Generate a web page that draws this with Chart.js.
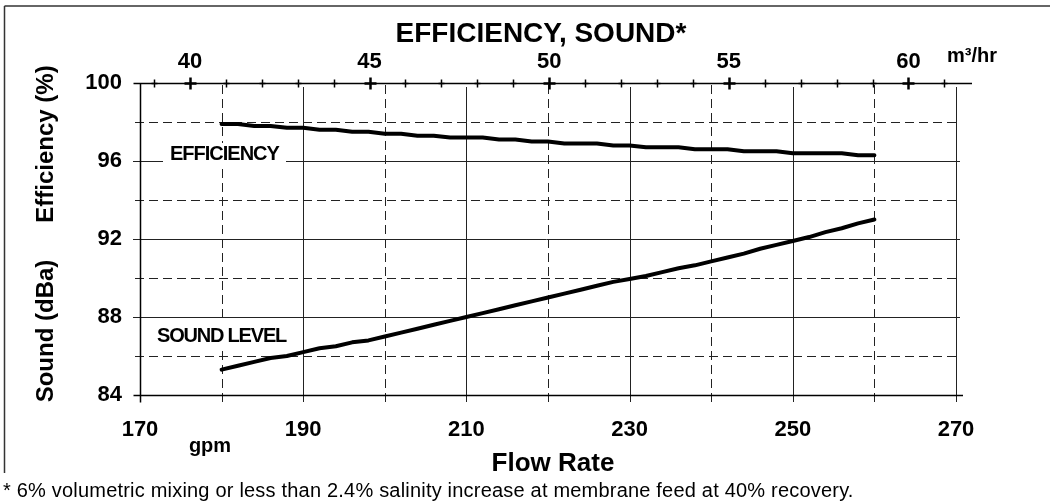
<!DOCTYPE html>
<html>
<head>
<meta charset="utf-8">
<title>Efficiency, Sound</title>
<script src="https://cdn.jsdelivr.net/npm/chart.js@4.4.1/dist/chart.umd.min.js"></script>
<style>
  body { margin: 0; background: #fff; }
  #wrap { width: 1050px; height: 502px; position: relative; }
</style>
</head>
<body>
<div id="wrap"><canvas id="chart"></canvas></div>
<script>
// flow rate (gpm) and the two curves
const flowGpm = [180, 182, 184, 186, 188, 190, 192, 194, 196, 198, 200, 202, 204, 206, 208, 210,
  212, 214, 216, 218, 220, 222, 224, 226, 228, 230, 232, 234, 236, 238, 240, 242, 244, 246, 248,
  250, 252, 254, 256, 258, 260];
const efficiency = [97.9, 97.9, 97.8, 97.8, 97.7, 97.7, 97.6, 97.6, 97.5, 97.5, 97.4, 97.4, 97.3,
  97.3, 97.2, 97.2, 97.2, 97.1, 97.1, 97.0, 97.0, 96.9, 96.9, 96.9, 96.8, 96.8, 96.7, 96.7, 96.7,
  96.6, 96.6, 96.6, 96.5, 96.5, 96.5, 96.4, 96.4, 96.4, 96.4, 96.3, 96.3];
const sound = [85.3, 85.5, 85.7, 85.9, 86.0, 86.2, 86.4, 86.5, 86.7, 86.8, 87.0, 87.2, 87.4, 87.6,
  87.8, 88.0, 88.2, 88.4, 88.6, 88.8, 89.0, 89.2, 89.4, 89.6, 89.8, 89.95, 90.1, 90.3, 90.5, 90.65,
  90.85, 91.05, 91.25, 91.5, 91.7, 91.9, 92.1, 92.35, 92.55, 92.8, 93.0];

// tick labels
const gpmTicks = [170, 190, 210, 230, 250, 270];
const gpmMinor = [180, 200, 220, 240, 260];
const yTicks = [84, 88, 92, 96, 100];
const yMinor = [86, 90, 94, 98];
const m3Ticks = [40, 45, 50, 55, 60];
const m3Minor = [39, 41, 42, 43, 44, 46, 47, 48, 49, 51, 52, 53, 54, 56, 57, 58, 59, 61];

const GPM_TO_M3 = 0.22712;
const FONT = "'Liberation Sans', Arial, sans-serif";

function seg(ctx, x1, y1, x2, y2) {
  ctx.beginPath();
  ctx.moveTo(x1, y1);
  ctx.lineTo(x2, y2);
  ctx.stroke();
}
const px = v => Math.round(v) + 0.5;

// grid, axes and the cross ticks of the m3/hr axis
const gridPlugin = {
  id: 'gridPlugin',
  beforeDatasetsDraw(chart) {
    const { ctx, chartArea: a, scales: { x, y, x2 } } = chart;
    ctx.save();
    ctx.lineWidth = 1;
    ctx.strokeStyle = '#222';

    ctx.setLineDash([9, 5]);
    gpmMinor.forEach(v => {
      const p = px(x.getPixelForValue(v));
      seg(ctx, p, a.top + 2, p, a.bottom + 7);
    });
    yMinor.forEach(v => {
      const p = px(y.getPixelForValue(v));
      seg(ctx, a.left - 5, p, a.right + 4, p);
    });
    ctx.setLineDash([]);

    gpmTicks.slice(1).forEach(v => {
      const p = px(x.getPixelForValue(v));
      seg(ctx, p, a.top + 4, p, a.bottom + 7);
    });
    yTicks.slice(1, -1).forEach(v => {
      const p = px(y.getPixelForValue(v));
      seg(ctx, a.left - 7, p, a.right + 4, p);
    });

    // axes
    ctx.strokeStyle = '#000';
    ctx.lineWidth = 1.5;
    const L = px(a.left), B = px(a.bottom), T = px(a.top);
    seg(ctx, L, T, L, B + 7);
    seg(ctx, L - 7, B, a.right + 7, B);
    seg(ctx, L - 7, T, a.right + 16, T);

    // m3/hr crosses
    m3Minor.forEach(v => {
      const p = px(x2.getPixelForValue(v));
      ctx.lineWidth = 1.5;
      seg(ctx, p, T - 4, p, T + 4);
      seg(ctx, p - 3, T, p + 3, T);
    });
    m3Ticks.forEach(v => {
      const p = px(x2.getPixelForValue(v));
      ctx.lineWidth = 2.5;
      seg(ctx, p, T - 6, p, T + 6);
      seg(ctx, p - 6, T, p + 6, T);
    });
    ctx.restore();
  },
  afterDatasetsDraw(chart) {
    const { ctx } = chart;
    ctx.save();
    ctx.fillStyle = '#000';
    ctx.textBaseline = 'alphabetic';

    // frame
    ctx.strokeStyle = '#333';
    ctx.lineWidth = 1.5;
    seg(ctx, 4.5, 6, 1050, 6);
    seg(ctx, 4.5, 6, 4.5, 473);

    // curve labels
    ctx.fillStyle = '#fff';
    ctx.fillRect(163, 143, 123, 22);
    ctx.fillRect(152, 319, 144, 27);
    ctx.fillStyle = '#000';
    ctx.font = `bold 20px ${FONT}`;
    ctx.letterSpacing = '-1px';
    ctx.textAlign = 'left';
    ctx.fillText('EFFICIENCY', 170, 160);
    ctx.letterSpacing = '-1.2px';
    ctx.fillText('SOUND LEVEL', 157, 342);
    ctx.letterSpacing = '0px';

    // title and unit labels
    ctx.textAlign = 'center';
    ctx.font = `bold 28px ${FONT}`;
    ctx.fillText('EFFICIENCY, SOUND*', 541, 42);
    ctx.font = `bold 26px ${FONT}`;
    ctx.fillText('Flow Rate', 553, 471);
    ctx.font = `bold 20px ${FONT}`;
    ctx.fillText('gpm', 210, 452);
    ctx.textAlign = 'left';
    ctx.fillText('m³/hr', 947, 62);

    // vertical axis titles
    ctx.font = `bold 24px ${FONT}`;
    ctx.textAlign = 'center';
    [['Efficiency (%)', 144], ['Sound (dBa)', 331]].forEach(([t, cy]) => {
      ctx.save();
      ctx.translate(53, cy);
      ctx.rotate(-Math.PI / 2);
      ctx.fillText(t, 0, 0);
      ctx.restore();
    });

    // footnote
    ctx.textAlign = 'left';
    ctx.font = `20px ${FONT}`;
    ctx.letterSpacing = '0.2px';
    ctx.fillText('* 6% volumetric mixing or less than 2.4% salinity increase at membrane feed at 40% recovery.', 3, 497);
    ctx.restore();
  }
};

const tickFont = size => ({ family: FONT, weight: 'bold', size: size });

const lineStyle = {
  borderColor: '#000',
  borderWidth: 4,
  pointRadius: 0,
  borderCapStyle: 'round',
  borderJoinStyle: 'round',
  xAxisID: 'x',
  yAxisID: 'y'
};

new Chart(document.getElementById('chart'), {
  type: 'line',
  data: {
    datasets: [
      Object.assign({ label: 'Efficiency', data: flowGpm.map((g, i) => ({ x: g, y: efficiency[i] })) }, lineStyle),
      Object.assign({ label: 'Sound', data: flowGpm.map((g, i) => ({ x: g, y: sound[i] })) }, lineStyle)
    ]
  },
  options: {
    responsive: true,
    maintainAspectRatio: false,
    animation: false,
    layout: { padding: { left: 0, right: 94, top: 0, bottom: 0 } },
    plugins: { legend: { display: false }, tooltip: { enabled: false }, title: { display: false } },
    scales: {
      x: {
        type: 'linear',
        position: 'bottom',
        min: 170,
        max: 270,
        afterBuildTicks: s => { s.ticks = gpmTicks.map(v => ({ value: v })); },
        afterFit: s => { s.height = 107; },
        grid: { display: false, drawTicks: false },
        border: { display: false },
        ticks: { color: '#000', font: tickFont(22), padding: 22, maxRotation: 0, autoSkip: false }
      },
      x2: {
        type: 'linear',
        position: 'top',
        min: 170 * GPM_TO_M3,
        max: 270 * GPM_TO_M3,
        afterBuildTicks: s => { s.ticks = m3Ticks.map(v => ({ value: v })); },
        afterFit: s => { s.height = 83; },
        grid: { display: false, drawTicks: false },
        border: { display: false },
        ticks: { color: '#000', font: tickFont(22), padding: 8, maxRotation: 0, autoSkip: false }
      },
      y: {
        type: 'linear',
        min: 84,
        max: 100,
        afterBuildTicks: s => { s.ticks = yTicks.map(v => ({ value: v })); },
        afterFit: s => { s.width = 140; },
        grid: { display: false, drawTicks: false },
        border: { display: false },
        ticks: { color: '#000', font: tickFont(22), padding: 18, autoSkip: false }
      }
    }
  },
  plugins: [gridPlugin]
});
</script>
</body>
</html>
